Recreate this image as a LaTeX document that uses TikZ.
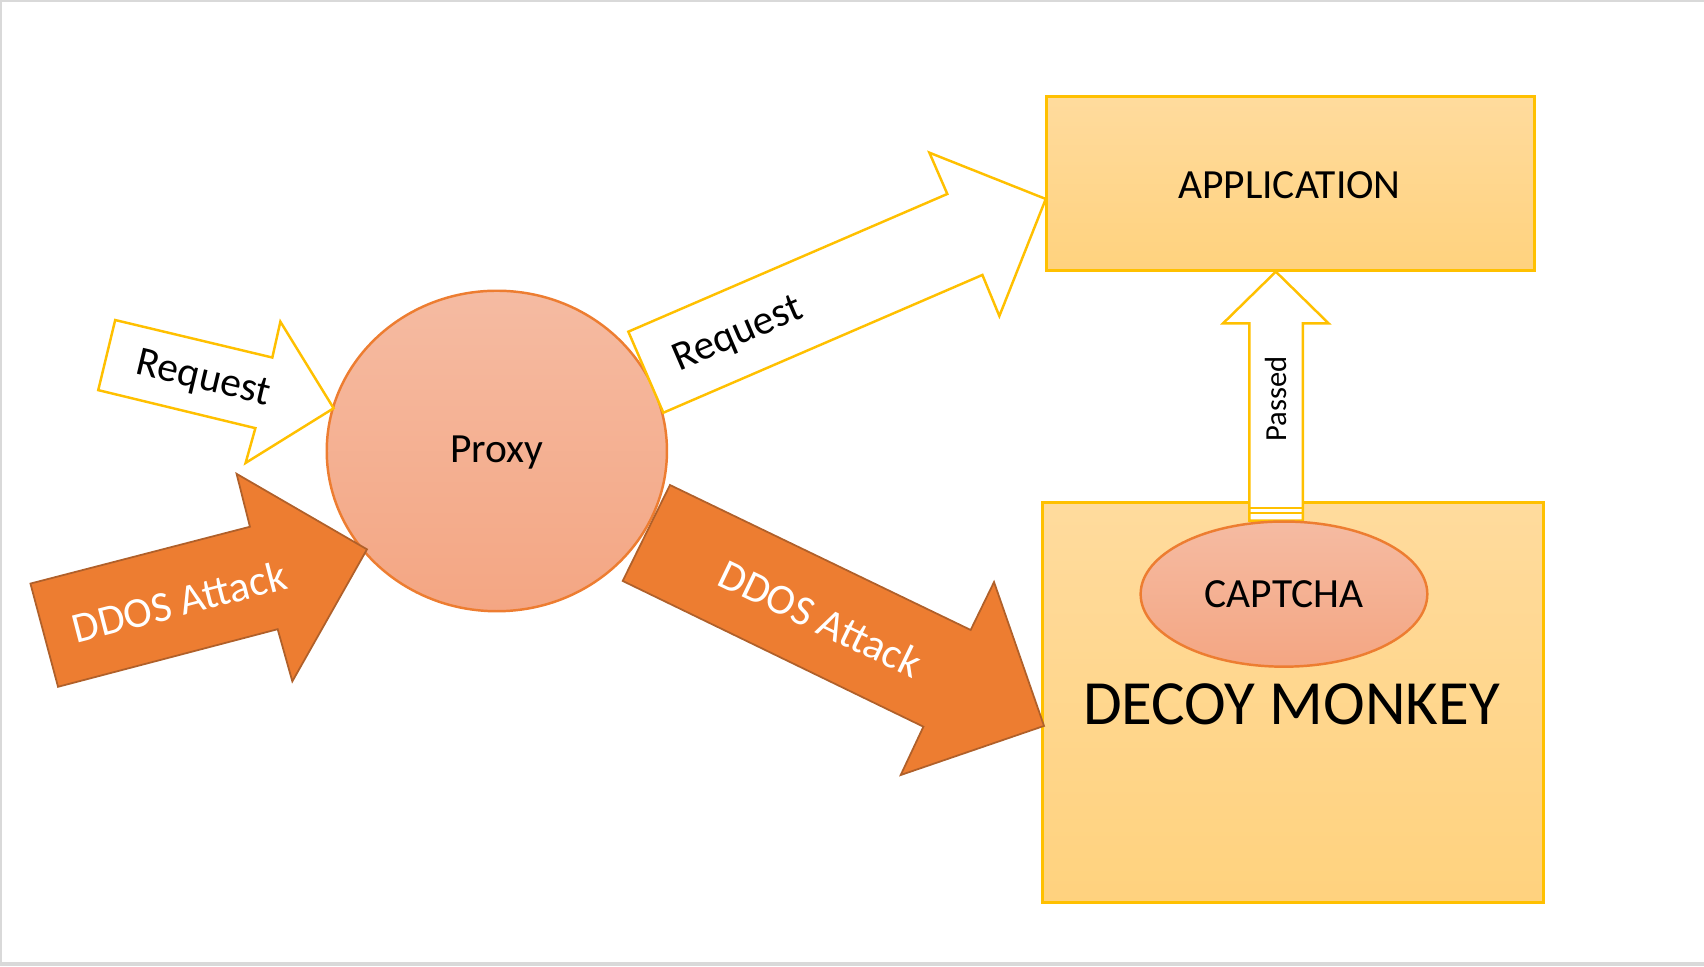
\documentclass[tikz,border=0pt]{standalone}
\usepackage{fontspec}
\setmainfont{Carlito}
\usetikzlibrary{shapes.geometric}
\definecolor{gold}{HTML}{FFC000}
\definecolor{goldtop}{HTML}{FFDB9D}
\definecolor{goldbot}{HTML}{FFD27E}
\definecolor{salmontop}{HTML}{F5BBA2}
\definecolor{salmonbot}{HTML}{F4A683}
\definecolor{accent}{HTML}{ED7D31}
\definecolor{accentdark}{HTML}{B0602A}
\definecolor{frame}{HTML}{D9D9D9}
\tikzset{
  box/.style={draw=gold, line width=0.8pt, top color=goldtop, bottom color=goldbot, inner sep=0pt},
  bubble/.style={ellipse, draw=accent, line width=0.7pt, top color=salmontop, bottom color=salmonbot, inner sep=0pt},
  reqarrow/.style={draw=gold, fill=white, line width=0.7pt, line join=miter},
  ddosarrow/.style={draw=accentdark, fill=accent, line width=0.5pt, line join=miter},
  label/.style={font=\fontsize{11.8pt}{14pt}\selectfont, inner sep=0pt},
  ddoslabel/.style={font=\fontsize{12.2pt}{14pt}\selectfont, inner sep=0pt, white},
}
\begin{document}
\begin{tikzpicture}[x=0.010867cm, y=-0.010867cm]
\useasboundingbox (0,0) rectangle (1568,889);
\fill[frame] (0,0) rectangle (1568,1.84);
\fill[frame] (0,0) rectangle (1.84,889);
\fill[frame] (0,885.3) rectangle (1568,889);
\node[box, minimum width=4.879cm, minimum height=1.739cm] (app) at (1187.5,169) {};
\node[label] (applbl) at (1186.5,170) {APPLICATION};
\node[box, minimum width=5.004cm, minimum height=3.999cm] (decoy) at (1189.8,646.6) {};
\node[font=\fontsize{17.9pt}{21pt}\selectfont, inner sep=0pt] (decoylbl) at (1188.5,648) {DECOY MONKEY};
\draw[reqarrow] (1174,250) -- (1222.5,297.5) -- (1198.8,297.5) -- (1198.8,479)
  -- (1149.6,479) -- (1149.6,297.5) -- (1125.5,297.5) -- cycle;
\draw[gold, line width=0.6pt] (1149.6,467.8) -- (1198.8,467.8);
\draw[gold, line width=0.6pt] (1149.6,472.4) -- (1198.8,472.4);
\node[font=\fontsize{8.7pt}{10pt}\selectfont, inner sep=0pt, rotate=90] (passed) at (1174,367) {Passed};
\node[bubble, minimum width=2.866cm, minimum height=1.451cm] (captcha) at (1181.5,546.7) {};
\node[label] (captchalbl) at (captcha.center) {CAPTCHA};
\node[bubble, minimum width=3.401cm, minimum height=3.204cm] (proxy) at (457.2,415) {};
\node[label] (proxylbl) at (457.2,416.5) {Proxy};
\draw[reqarrow] (106,294.5) -- (250.6,329) -- (258,296) -- (307,375.7)
  -- (226,426) -- (235,394) -- (90.4,359) -- cycle;
\node[label, rotate=-13.4] (req1) at (187,349.7) {Request};
\draw[ddosarrow] (28,537) -- (230,484.7) -- (217.7,436) -- (337.7,505.5)
  -- (269,627) -- (255.5,579) -- (53.4,632) -- cycle;
\node[ddoslabel, rotate=14.5] (ddos1) at (165,553.7) {DDOS Attack};
\draw[reqarrow] (578.2,305.2) -- (871.7,178.5) -- (855.2,140.5) -- (962.3,183.1)
  -- (919.6,290.8) -- (904,253) -- (610.4,379.8) -- cycle;
\node[label, rotate=23.35] (req2) at (679.4,308.3) {Request};
\draw[ddosarrow] (616.5,446.3) -- (893.2,579.7) -- (914.7,535.6) -- (960.7,668)
  -- (828.8,713.2) -- (849.7,668.7) -- (573,534.6) -- cycle;
\node[ddoslabel, rotate=-25.7] (ddos2) at (755,569) {DDOS Attack};
\end{tikzpicture}
\end{document}
